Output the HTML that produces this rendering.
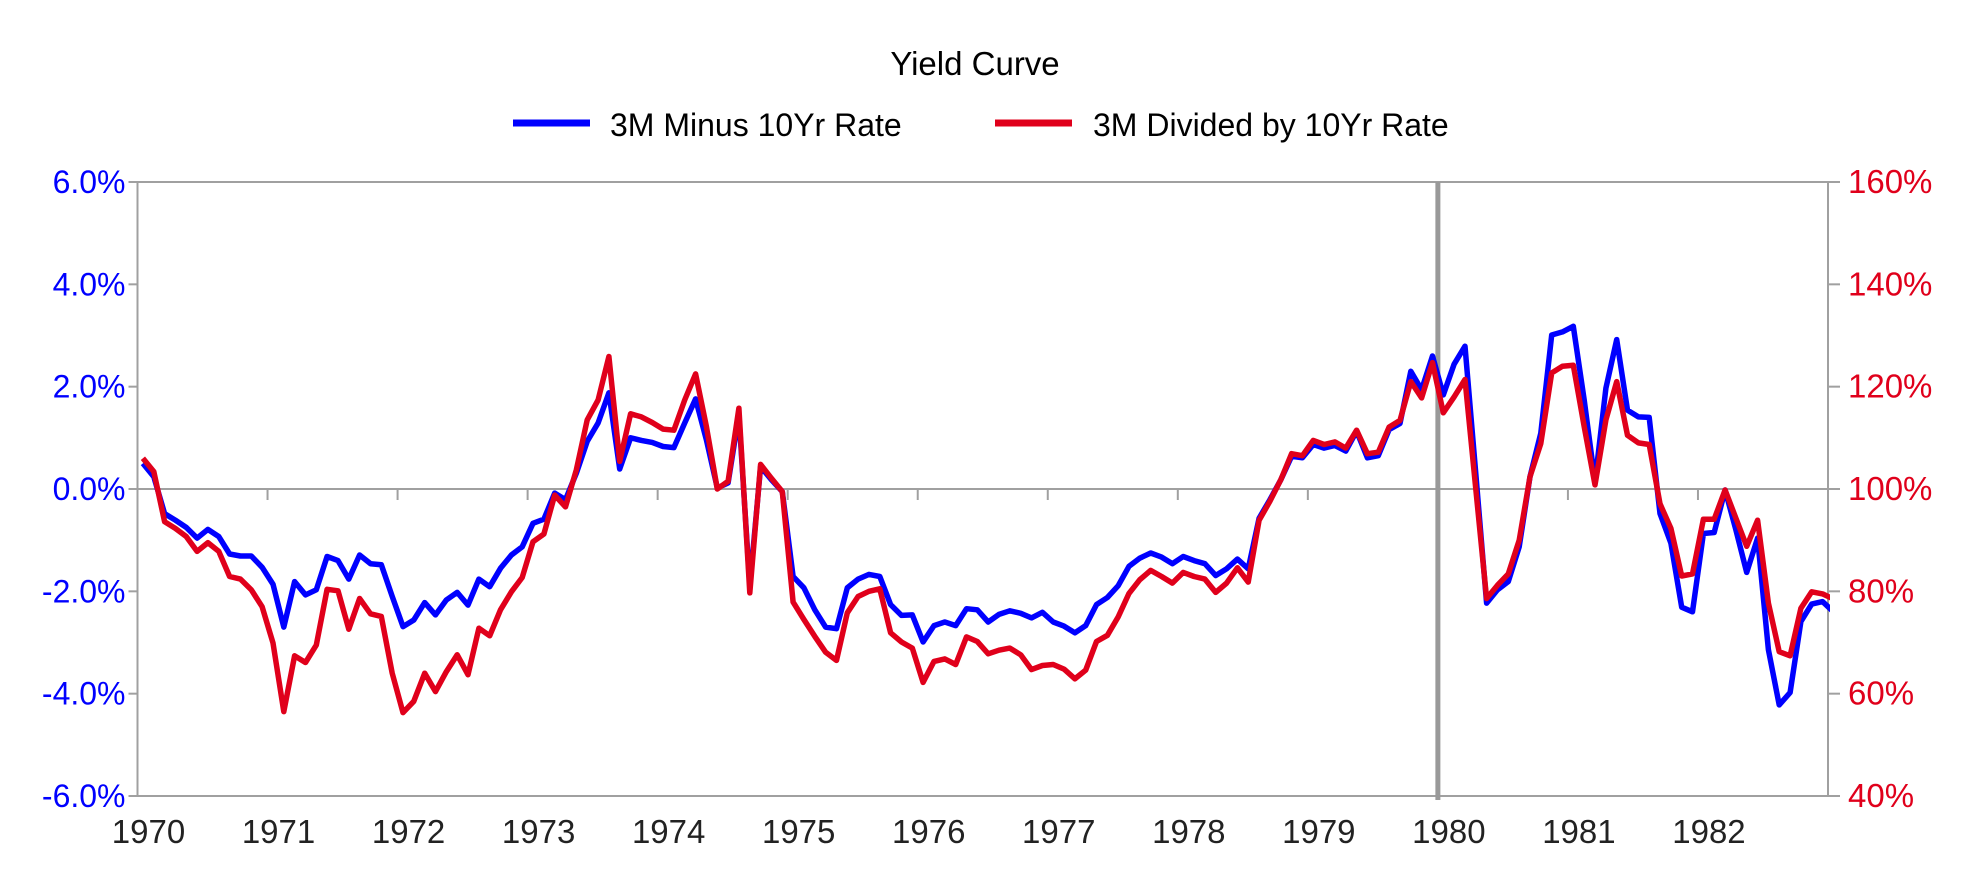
<!DOCTYPE html>
<html><head><meta charset="utf-8"><style>
html,body{margin:0;padding:0;background:#fff;}
svg{display:block;font-family:"Liberation Sans",sans-serif;}
</style></head><body>
<svg id="chart" width="1961" height="871" viewBox="0 0 1961 871" xmlns="http://www.w3.org/2000/svg">
<text x="975" y="75" font-size="33" text-anchor="middle" fill="#000">Yield Curve</text>
<g>
<g><line x1="513" y1="123" x2="590" y2="123" stroke="#0000ff" stroke-width="7"/><text x="610" y="136" font-size="32" fill="#000">3M Minus 10Yr Rate</text></g>
<g><line x1="995" y1="123" x2="1072" y2="123" stroke="#e0001b" stroke-width="7"/><text x="1093" y="136" font-size="32" fill="#000">3M Divided by 10Yr Rate</text></g>
</g>
<g id="axes"></g>
<g id="marks"></g>
</svg>
<script>
const years = ["1970","1971","1972","1973","1974","1975","1976","1977","1978","1979","1980","1981","1982"];
const leftTicks = [6,4,2,0,-2,-4,-6];
const rightTicks = [160,140,120,100,80,60,40];
const spread = [0.50,0.24,-0.48,-0.61,-0.75,-0.96,-0.79,-0.93,-1.27,-1.31,-1.31,-1.53,-1.86,-2.70,-1.81,-2.07,-1.97,-1.32,-1.40,-1.76,-1.29,-1.46,-1.48,-2.10,-2.69,-2.56,-2.22,-2.46,-2.17,-2.02,-2.27,-1.76,-1.91,-1.55,-1.29,-1.13,-0.67,-0.59,-0.08,-0.21,
0.31,0.93,1.29,1.88,0.39,1.00,0.95,0.91,0.83,0.81,1.29,1.76,0.96,0.02,0.12,1.45,-1.90,0.44,0.18,-0.05,-1.71,-1.93,-2.36,-2.70,-2.73,-1.93,-1.76,-1.67,-1.71,-2.26,-2.47,-2.46,-2.99,-2.67,-2.60,-2.67,-2.34,-2.36,-2.60,-2.45,
-2.38,-2.43,-2.52,-2.41,-2.60,-2.68,-2.81,-2.67,-2.26,-2.12,-1.89,-1.51,-1.35,-1.25,-1.33,-1.46,-1.32,-1.40,-1.46,-1.69,-1.56,-1.37,-1.56,-0.57,-0.21,0.18,0.64,0.61,0.87,0.80,0.85,0.74,1.13,0.61,0.65,1.16,1.28,2.30,1.94,
2.60,1.84,2.44,2.79,0.30,-2.23,-1.97,-1.81,-1.13,0.24,1.09,3.01,3.07,3.18,1.74,0.14,1.97,2.92,1.54,1.41,1.40,-0.48,-1.06,-2.31,-2.40,-0.87,-0.85,-0.02,-0.80,-1.63,-0.96,-3.14,-4.22,-3.98,-2.59,-2.25,-2.20,-2.40];
const ratio = [106.0,103.4,93.6,92.3,90.7,87.8,89.5,87.8,82.9,82.4,80.3,77.0,69.9,56.5,67.4,66.1,69.5,80.4,80.1,72.6,78.6,75.6,75.1,64.0,56.3,58.5,64.0,60.4,64.3,67.6,63.7,72.8,71.3,76.4,79.9,82.7,89.7,91.2,98.8,96.5,
103.8,113.5,117.4,125.9,105.4,114.7,114.1,113.0,111.7,111.5,117.4,122.5,112.2,100.0,101.5,115.8,79.7,104.8,102.1,99.5,77.9,74.5,71.2,68.1,66.5,75.8,79.0,80.0,80.5,71.9,70.1,68.9,62.2,66.3,66.8,65.7,71.1,70.2,67.8,68.5,
68.9,67.6,64.7,65.5,65.7,64.8,62.9,64.6,70.2,71.4,75.0,79.6,82.3,84.1,82.9,81.6,83.7,82.9,82.4,79.8,81.6,84.6,81.8,93.9,97.6,101.8,106.9,106.5,109.5,108.7,109.2,108.0,111.5,106.9,107.2,112.1,113.4,121.0,117.8,
124.7,114.9,118.0,121.4,100.0,78.6,81.2,83.4,90.0,102.4,108.9,122.7,124.0,124.2,112.2,100.8,113.5,121.0,110.5,109.0,108.7,97.1,92.3,83.0,83.4,94.1,94.1,99.8,94.3,88.8,93.9,77.7,68.2,67.4,76.7,79.9,79.5,78.5];
const markerMonth = 120;

const NS = "http://www.w3.org/2000/svg";
const X0 = 137.5, X1 = 1828, YT = 182, YB = 796;
const W = (X1 - X0) / 156;
const xAt = i => X0 + (i + 0.5) * W;
const yL = v => YT + (6 - v) / 12 * (YB - YT);
const yR = v => YT + (160 - v) / 120 * (YB - YT);
function mk(tag, attrs, parent) {
  const e = document.createElementNS(NS, tag);
  for (const k in attrs) e.setAttribute(k, attrs[k]);
  parent.appendChild(e);
  return e;
}
const axes = document.getElementById('axes');
const marks = document.getElementById('marks');
const G = "#a0a0a0";
let e;
e = mk('rect', {x: X0, y: YT, width: X1 - X0, height: YB - YT, fill: 'none', stroke: G, 'stroke-width': 2}, axes);


e = mk('line', {x1: X0, y1: yL(0), x2: X1, y2: yL(0), stroke: G, 'stroke-width': 2}, axes);


for (let k = 1; k < years.length; k++) {
  const tx = X0 + k * 12 * W;
  e = mk('line', {x1: tx, y1: yL(0), x2: tx, y2: yL(0) + 11, stroke: G, 'stroke-width': 2}, axes);
  
  
}
years.forEach((y, k) => {
  const t = mk('text', {x: X0 + k * 12 * W + 11, y: 843, 'font-size': 33, 'text-anchor': 'middle', fill: '#222'}, axes);
  t.textContent = y;
  
  
});
leftTicks.forEach(v => {
  const yy = yL(v);
  e = mk('line', {x1: X0 - 9, y1: yy, x2: X0, y2: yy, stroke: G, 'stroke-width': 2}, axes);
  
  
  const t = mk('text', {x: X0 - 12, y: yy + 11, 'font-size': 32, 'text-anchor': 'end', fill: '#0000ff'}, axes);
  t.textContent = v.toFixed(1) + '%';
  
  
});
rightTicks.forEach(v => {
  const yy = yR(v);
  e = mk('line', {x1: X1, y1: yy, x2: X1 + 12, y2: yy, stroke: G, 'stroke-width': 2}, axes);
  
  
  const t = mk('text', {x: X1 + 20, y: yy + 11, 'font-size': 33, 'text-anchor': 'start', fill: '#e0001b'}, axes);
  t.textContent = v + '%';
  
  
});
const mx = X0 + markerMonth * W;
e = mk('line', {x1: mx, y1: YT, x2: mx, y2: YB + 4, stroke: '#999', 'stroke-width': 5}, marks);


const defs = mk('defs', {}, document.getElementById('chart'));
const cp = mk('clipPath', {id: 'clip'}, defs);
mk('rect', {x: X0 - 4, y: 0, width: X1 - X0 + 6, height: 871}, cp);
function series(vals, yf, color, name) {
  const d = vals.map((v, i) => (i ? 'L' : 'M') + xAt(i).toFixed(1) + ' ' + yf(v).toFixed(1)).join(' ');
  const p = mk('path', {d: d, fill: 'none', stroke: color, 'stroke-width': 5.5, 'stroke-linejoin': 'round', 'clip-path': 'url(#clip)'}, marks);
  
  
}
series(spread, yL, '#0000ff', 'line-3m-minus-10yr');
series(ratio, yR, '#e0001b', 'line-3m-divided-by-10yr');
</script>
</body></html>
